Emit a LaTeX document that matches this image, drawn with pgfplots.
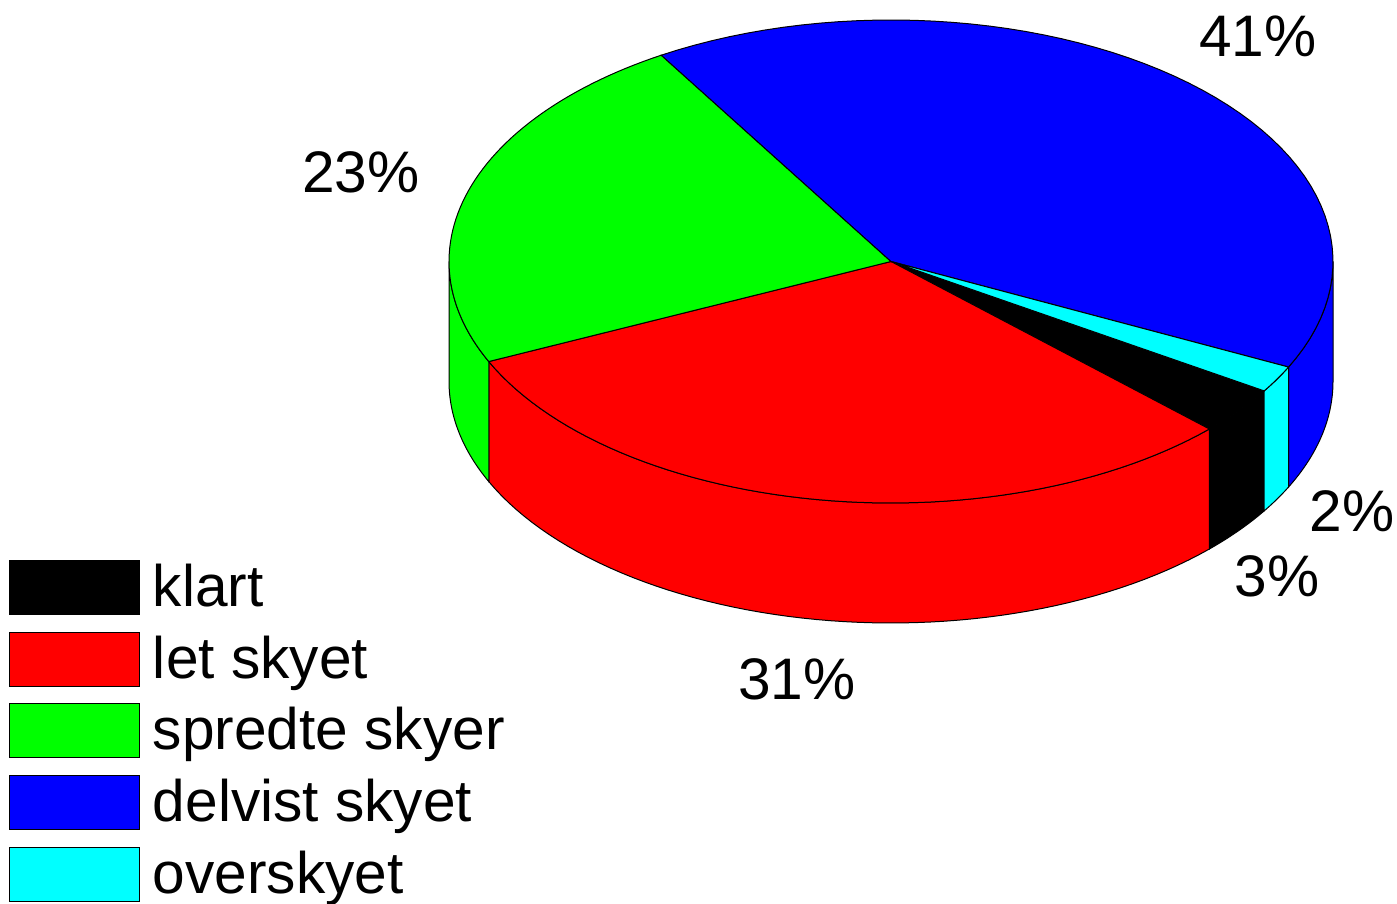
\documentclass[border=0pt]{standalone}
\usepackage{pgfplots}
\pgfplotsset{compat=1.18}
\usepackage{pgfplotstable}
\usepackage{fontspec}
\setmainfont{Liberation Sans}

\definecolor{cKlart}{RGB}{0,0,0}
\definecolor{cLet}{RGB}{255,0,0}
\definecolor{cSpredte}{RGB}{0,255,0}
\definecolor{cDelvist}{RGB}{0,0,255}
\definecolor{cOver}{RGB}{0,255,255}

\pgfplotstableread{
name value
klart 3.2
let 31.0
spredte 23.1
delvist 40.9
overskyet 1.8
}\piedata

\pgfplotstablegetelem{0}{value}\of\piedata \let\vA\pgfplotsretval
\pgfplotstablegetelem{1}{value}\of\piedata \let\vB\pgfplotsretval
\pgfplotstablegetelem{2}{value}\of\piedata \let\vC\pgfplotsretval
\pgfplotstablegetelem{3}{value}\of\piedata \let\vD\pgfplotsretval
\pgfplotstablegetelem{4}{value}\of\piedata \let\vE\pgfplotsretval

% slice boundary angles (clockwise from the start angle)
\pgfmathsetmacro\aA{-32.4}
\pgfmathsetmacro\aB{\aA-3.6*\vA}
\pgfmathsetmacro\aC{\aB-3.6*\vB}
\pgfmathsetmacro\aD{\aC-3.6*\vC}
\pgfmathsetmacro\aE{\aD-3.6*\vD}
\pgfmathsetmacro\aF{\aE-3.6*\vE}
\pgfmathsetmacro\aEp{\aE+360}
\pgfmathsetmacro\aFp{\aF+360}

\tikzset{
  declare function={
    topr(\t)=min(\t,1)-max(\t-2,0);
    topf(\t)=min(max(\t-1,0),1);
    sidef(\t)=min(\t,1)-min(max(\t-2,0),1);
    sidez(\t)=min(max(\t-1,0),1)-min(max(\t-3,0),1);
  },
  pct/.style={anchor=base, inner sep=0pt, font=\fontsize{29.3}{34}\selectfont}
}

\newcommand\sidewall[3]{%
  \addplot[forget plot, fill=#1, draw=black, line width=0.5pt, domain=0:4, samples=241, variable=\t]
   ({891+442*cos((#2)+((#3)-(#2))*sidef(\t))},
    {642.5+241.5*sin((#2)+((#3)-(#2))*sidef(\t))-120*sidez(\t)});
}
\newcommand\topwedge[4]{%
  \addplot[fill=#1, draw=black, line width=0.5pt, domain=0:3, samples=181, variable=\t]
   ({891+442*topr(\t)*cos((#2)+((#3)-(#2))*topf(\t))},
    {642.5+241.5*topr(\t)*sin((#2)+((#3)-(#2))*topf(\t))});
  \addlegendentry{#4}
}

\begin{document}
\begin{tikzpicture}
\begin{axis}[
  scale only axis, width=698.5pt, height=452pt,
  xmin=0, xmax=1397, ymin=0, ymax=904,
  hide axis, clip=false,
  legend image code/.code={\draw[#1, draw=black, line width=0.5pt] (0pt,-4pt) rectangle (65pt,23pt);},
  legend style={draw=none, fill=none, inner sep=0pt, outer sep=0pt,
    at={(axis cs:9,0.5)}, anchor=south west,
    font=\fontsize{29.3}{34}\selectfont,
    cells={anchor=base west},
    nodes={inner sep=0pt, text height=21pt, text depth=5pt},
    column sep=6.5pt, row sep=7.65pt},
]
\addplot[draw=none, forget plot] coordinates {(0,0) (1397,904)};
% side walls (visible front half)
\sidewall{cKlart}{\aB}{\aA}
\sidewall{cLet}{\aC}{\aB}
\sidewall{cSpredte}{-180}{\aC}
\sidewall{cDelvist}{\aEp}{0}
\sidewall{cOver}{\aFp}{\aEp}
% top faces
\topwedge{cKlart}{\aA}{\aB}{klart}
\topwedge{cLet}{\aB}{\aC}{let skyet}
\topwedge{cSpredte}{\aC}{\aD}{spredte skyer}
\topwedge{cDelvist}{\aD}{\aE}{delvist skyet}
\topwedge{cOver}{\aE}{\aF}{overskyet}
% percentage labels
\node[pct] at (axis cs:1258,847) {41\%};
\node[pct] at (axis cs:361,711) {23\%};
\node[pct] at (axis cs:1352,372) {2\%};
\node[pct] at (axis cs:1277,307) {3\%};
\node[pct] at (axis cs:797,204) {31\%};
\end{axis}
\end{tikzpicture}
\end{document}
